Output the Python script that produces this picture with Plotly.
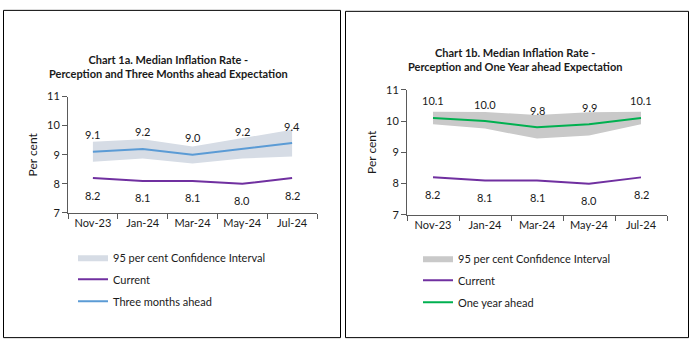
import plotly.graph_objects as go

months = ["Nov-23", "Jan-24", "Mar-24", "May-24", "Jul-24"]
current = [8.2, 8.1, 8.1, 8.0, 8.2]
three_month = [9.1, 9.2, 9.0, 9.2, 9.4]
three_lo = [8.76, 8.87, 8.70, 8.87, 8.94]
three_hi = [9.45, 9.53, 9.28, 9.57, 9.86]
one_year = [10.1, 10.0, 9.8, 9.9, 10.1]
one_lo = [9.90, 9.76, 9.44, 9.54, 9.90]
one_hi = [10.30, 10.29, 10.19, 10.28, 10.30]

W, H = 691, 347
FONT = "Lato"
TXT = "#1a1a1a"

fig = go.Figure()

def px_x(p):
    return p / W

def px_y(p):
    return 1 - p / H

def add_panel(xa, ya, lo, hi, exp, exp_name, band_color, exp_color, legend):
    fig.add_trace(go.Scatter(x=months, y=lo, mode="lines", line=dict(width=0, color=band_color),
                             xaxis=xa, yaxis=ya, showlegend=False, hoverinfo="skip", legend=legend))
    fig.add_trace(go.Scatter(x=months, y=hi, mode="lines", line=dict(width=0, color=band_color),
                             fill="tonexty", fillcolor=band_color, xaxis=xa, yaxis=ya,
                             name="95 per cent Confidence Interval", legend=legend, legendgroup=legend + "a"))
    fig.add_trace(go.Scatter(x=months, y=current, mode="lines", line=dict(width=2, color="#7030A0"),
                             xaxis=xa, yaxis=ya, name="Current", legend=legend, legendgroup=legend + "b"))
    fig.add_trace(go.Scatter(x=months, y=exp, mode="lines", line=dict(width=2, color=exp_color),
                             xaxis=xa, yaxis=ya, name=exp_name, legend=legend, legendgroup=legend + "c"))
    ref_x = "x" if xa == "x" else "x2"
    ref_y = "y" if ya == "y" else "y2"
    for m, v in zip(months, exp):
        fig.add_annotation(x=m, y=v, xref=ref_x, yref=ref_y, text=f"{v:.1f}", showarrow=False,
                           yshift=17, font=dict(family=FONT, size=11, color=TXT))
    for m, v in zip(months, current):
        fig.add_annotation(x=m, y=v, xref=ref_x, yref=ref_y, text=f"{v:.1f}", showarrow=False,
                           yshift=-17, font=dict(family=FONT, size=11, color=TXT))

add_panel("x", "y", three_lo, three_hi, three_month, "Three months ahead", "#D6DCE5", "#5B9BD5", "legend")
add_panel("x2", "y2", one_lo, one_hi, one_year, "One year ahead", "#C9C9C9", "#00B050", "legend2")

axis_common = dict(showgrid=False, zeroline=False, showline=True, linecolor="#5a5a5a", linewidth=1,
                   ticks="outside", tickcolor="#5a5a5a", ticklen=5,
                   tickfont=dict(family=FONT, size=11, color=TXT))

fig.update_layout(
    width=W, height=H, margin=dict(l=0, r=0, t=0, b=0),
    paper_bgcolor="white", plot_bgcolor="white",
    font=dict(family=FONT, size=11, color=TXT),
    xaxis=dict(domain=[px_x(68), px_x(317)], anchor="y", range=[-0.5, 4.5], tickson="boundaries", **axis_common),
    yaxis=dict(domain=[px_y(214), px_y(93)], anchor="x", range=[7, 11], dtick=1, **axis_common,
               title=dict(text="Per cent", font=dict(family=FONT, size=12, color=TXT), standoff=6)),
    xaxis2=dict(domain=[px_x(407), px_x(667)], anchor="y2", range=[-0.5, 4.5], tickson="boundaries", **axis_common),
    yaxis2=dict(domain=[px_y(216), px_y(86)], anchor="x2", range=[7, 11], dtick=1, **axis_common,
                title=dict(text="Per cent", font=dict(family=FONT, size=12, color=TXT), standoff=6)),
    legend=dict(x=px_x(73), y=px_y(245), xanchor="left", yanchor="top", bgcolor="rgba(0,0,0,0)",
                font=dict(family=FONT, size=11, color=TXT), tracegroupgap=3, itemwidth=30),
    legend2=dict(x=px_x(418), y=px_y(246), xanchor="left", yanchor="top", bgcolor="rgba(0,0,0,0)",
                 font=dict(family=FONT, size=11, color=TXT), tracegroupgap=3, itemwidth=30),
    showlegend=True,
)

# titles
fig.add_annotation(x=px_x(168), y=px_y(61.5), xref="paper", yref="paper", showarrow=False,
                   xanchor="center", yanchor="middle",
                   text="<b>Chart 1a. Median Inflation Rate -</b><br><b>Perception and Three Months ahead Expectation</b>",
                   font=dict(family=FONT, size=11, color=TXT), align="center")
fig.add_annotation(x=px_x(515), y=px_y(54.5), xref="paper", yref="paper", showarrow=False,
                   xanchor="center", yanchor="middle",
                   text="<b>Chart 1b. Median Inflation Rate -</b><br><b>Perception and One Year ahead Expectation</b>",
                   font=dict(family=FONT, size=11, color=TXT), align="center")

# panel borders
fig.add_shape(type="rect", xref="paper", yref="paper", x0=px_x(3.5), x1=px_x(340.5), y0=px_y(343.5), y1=px_y(3.5),
              line=dict(color="black", width=1))
fig.add_shape(type="rect", xref="paper", yref="paper", x0=px_x(345.5), x1=px_x(688.5), y0=px_y(343.5), y1=px_y(4.5),
              line=dict(color="black", width=1))

fig.write_html("out.html")
